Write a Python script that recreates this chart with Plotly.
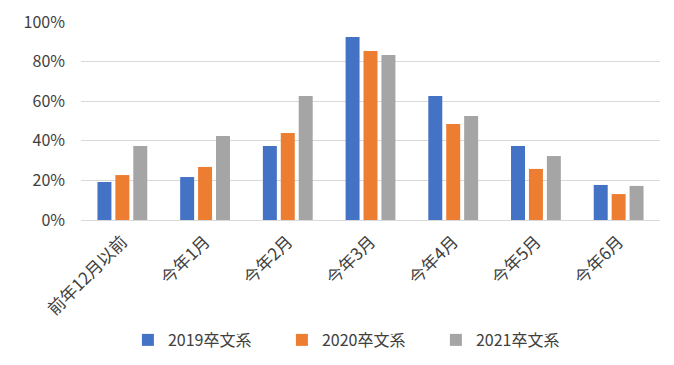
import plotly.graph_objects as go

categories = ["前年12月以前", "今年1月", "今年2月", "今年3月", "今年4月", "今年5月", "今年6月"]
series_names = ["2019卒文系", "2020卒文系", "2021卒文系"]
v2019 = [0.192, 0.217, 0.374, 0.924, 0.626, 0.374, 0.177]
v2020 = [0.227, 0.268, 0.439, 0.854, 0.485, 0.258, 0.131]
v2021 = [0.374, 0.424, 0.626, 0.833, 0.525, 0.323, 0.172]
colors = ["#4472C4", "#ED7D31", "#A5A5A5"]
y_ticks = [0, 0.2, 0.4, 0.6, 0.8, 1.0]
y_tick_labels = ["0%", "20%", "40%", "60%", "80%", "100%"]

font_family = "Noto Sans CJK JP, Noto Sans, sans-serif"
text_color = "#404040"

fig = go.Figure()
for name, vals, col in zip(series_names, [v2019, v2020, v2021], colors):
    fig.add_trace(go.Bar(x=categories, y=vals, name=name, marker_color=col,
                         marker_line_width=0))

# page body has an 8px margin, so the figure is offset by 8px
fig.update_layout(
    width=666, height=357,
    margin=dict(l=73, r=14, t=14, b=145, autoexpand=False),
    paper_bgcolor="white", plot_bgcolor="white",
    barmode="group", bargap=0.35, bargroupgap=0.22,
    font=dict(family=font_family, size=16, color=text_color),
    legend=dict(orientation="h", x=0.081, xanchor="left", y=-0.606, yanchor="middle",
                font=dict(size=16, color=text_color), itemwidth=30,
                entrywidth=109, traceorder="normal"),
    showlegend=True,
)
fig.update_yaxes(range=[0, 1.0], tickvals=y_ticks, ticktext=y_tick_labels,
                 showgrid=True, gridcolor="#D9D9D9", gridwidth=1,
                 zeroline=False, showline=False, ticks="", automargin=False,
                 tickfont=dict(size=16, color=text_color), ticklabelstandoff=15)
fig.update_xaxes(showline=True, linecolor="#D9D9D9", linewidth=1, ticks="",
                 automargin=False, ticklabelstandoff=4,
                 tickangle=-45, tickfont=dict(size=17, color=text_color))

fig.write_html("out.html")
